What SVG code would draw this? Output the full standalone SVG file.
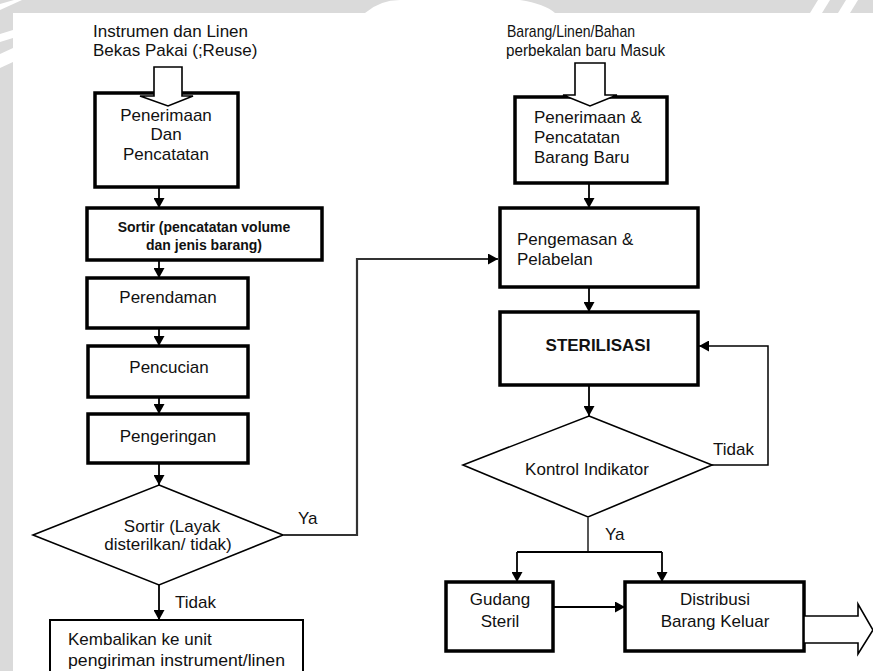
<svg xmlns="http://www.w3.org/2000/svg" width="873" height="671" viewBox="0 0 873 671">
  <defs>
    <marker id="arrow" markerUnits="userSpaceOnUse" markerWidth="10" markerHeight="11" refX="10" refY="5.5" orient="auto">
      <path d="M0,0 L10,5.5 L0,11 z" fill="#000"/>
    </marker>
    <style>
      text { font-family: "Liberation Sans", Arial, sans-serif; fill: #111; }
      .t { font-size: 17px; }
      .c { text-anchor: middle; }
      .small { font-size: 14px; font-weight: bold; }
      .bold { font-weight: bold; }
      .box { fill: #fff; stroke: #000; stroke-width: 3.5; }
      .thin { fill: #fff; stroke: #000; stroke-width: 2; }
      .dia { fill: #fff; stroke: #000; stroke-width: 1.6; }
      .hollow { fill: #fff; stroke: #000; stroke-width: 1.6; stroke-linejoin: miter; }
      .conn path { fill: none; stroke: #000; stroke-width: 1.8; }
    </style>
  </defs>

  <!-- page background with faint watermark band -->
  <rect x="0" y="0" width="873" height="671" fill="#fff"/>
  <g id="watermark" fill="#dadada">
    <rect x="0" y="0" width="873" height="13"/>
    <rect x="0" y="0" width="13" height="671"/>
  </g>
  <g id="watermark-cuts" fill="#fff">
    <polygon points="0,4 14,0 22,0 0,10"/>
    <polygon points="0,34 13,30 13,38 0,42"/>
    <polygon points="0,54 13,48 13,62 0,68"/>
    <path d="M365,13 Q380,0 400,0 L520,0 Q545,4 555,13 Z"/>
    <polygon points="810,13 818,0 830,0 822,13"/>
    <polygon points="838,13 846,0 858,0 850,13"/>
  </g>

  <!-- left column: reused instruments and linen -->
  <g id="src-reuse">
    <text class="t" x="93" y="37">Instrumen dan Linen</text>
    <text class="t" x="93" y="56">Bekas Pakai (;Reuse)</text>
  </g>

  <g id="n-penerimaan">
    <rect class="box" x="95" y="93" width="143" height="94"/>
    <text class="t c" x="166" y="121">Penerimaan</text>
    <text class="t c" x="166" y="140">Dan</text>
    <text class="t c" x="166" y="160">Pencatatan</text>
  </g>

  <g id="n-sortir">
    <rect class="box" x="87" y="208" width="235" height="52"/>
    <text class="small c" x="204" y="232">Sortir (pencatatan volume</text>
    <text class="small c" x="204" y="250">dan jenis barang)</text>
  </g>

  <g id="n-perendaman">
    <rect class="box" x="87" y="278" width="161" height="50"/>
    <text class="t c" x="168" y="303">Perendaman</text>
  </g>

  <g id="n-pencucian">
    <rect class="box" x="88" y="346" width="160" height="51"/>
    <text class="t c" x="169" y="373">Pencucian</text>
  </g>

  <g id="n-pengeringan">
    <rect class="box" x="88" y="414" width="160" height="49"/>
    <text class="t c" x="168" y="442">Pengeringan</text>
  </g>

  <g id="n-sortir-layak">
    <polygon class="dia" points="159,485 283,535 159,585 33,535"/>
    <text class="t c" x="172" y="532">Sortir (Layak</text>
    <text class="t c" x="168" y="550">disterilkan/ tidak)</text>
  </g>

  <g id="n-kembalikan">
    <rect class="thin" x="50" y="620" width="253" height="60"/>
    <text class="t" x="68" y="645">Kembalikan ke unit</text>
    <text class="t" x="68" y="666" textLength="217" lengthAdjust="spacingAndGlyphs">pengiriman instrument/linen</text>
  </g>

  <!-- right column: new supplies -->
  <g id="src-baru">
    <text class="t" x="507" y="37" textLength="128" lengthAdjust="spacingAndGlyphs">Barang/Linen/Bahan</text>
    <text class="t" x="506" y="56" textLength="159" lengthAdjust="spacingAndGlyphs">perbekalan baru Masuk</text>
  </g>

  <g id="n-penerimaan-baru">
    <rect class="box" x="515" y="97" width="152" height="86"/>
    <text class="t" x="534" y="123">Penerimaan &amp;</text>
    <text class="t" x="534" y="143">Pencatatan</text>
    <text class="t" x="534" y="163">Barang Baru</text>
  </g>

  <g id="n-pengemasan">
    <rect class="box" x="500" y="208" width="198" height="79"/>
    <text class="t" x="517" y="245">Pengemasan &amp;</text>
    <text class="t" x="517" y="265">Pelabelan</text>
  </g>

  <g id="n-sterilisasi">
    <rect class="box" x="500" y="312" width="198" height="73"/>
    <text class="t c bold" x="598" y="351">STERILISASI</text>
  </g>

  <g id="n-kontrol">
    <polygon class="dia" points="589,416 712,465 588,517 463,465"/>
    <text class="t c" x="587" y="475">Kontrol Indikator</text>
  </g>

  <g id="n-gudang">
    <rect class="box" x="446" y="582" width="107" height="69"/>
    <text class="t c" x="500" y="605">Gudang</text>
    <text class="t c" x="500" y="627">Steril</text>
  </g>

  <g id="n-distribusi">
    <rect class="box" x="625" y="582" width="179" height="69"/>
    <text class="t c" x="715" y="605">Distribusi</text>
    <text class="t c" x="715" y="627">Barang Keluar</text>
  </g>

  <!-- connectors -->
  <g id="connectors" class="conn">
    <path d="M159,187 V208" marker-end="url(#arrow)"/>
    <path d="M159,260 V278" marker-end="url(#arrow)"/>
    <path d="M159,328 V346" marker-end="url(#arrow)"/>
    <path d="M159,397 V414" marker-end="url(#arrow)"/>
    <path d="M159,463 V485" marker-end="url(#arrow)"/>
    <path d="M159,585 V620" marker-end="url(#arrow)"/>
    <path d="M283,535 H357 V259 H498" marker-end="url(#arrow)" style="stroke:#333;stroke-width:2.2"/>
    <path d="M589,183 V208" marker-end="url(#arrow)"/>
    <path d="M589,287 V312" marker-end="url(#arrow)"/>
    <path d="M589,385 V416" marker-end="url(#arrow)"/>
    <path d="M712,465 H768 V346 H699" marker-end="url(#arrow)" style="stroke-width:1.5"/>
    <path d="M588,517 V552" style="stroke:#444"/>
    <path d="M517,552 H662"/>
    <path d="M517,552 V582" marker-end="url(#arrow)"/>
    <path d="M662,552 V582" marker-end="url(#arrow)"/>
    <path d="M553,607 H625" marker-end="url(#arrow)"/>
    <!-- block arrows for inflow and outflow -->
    <polygon class="hollow" points="154,67 182,67 182,96 193,96 168,106 140,96 154,96"/>
    <polygon class="hollow" points="575,63 605,63 605,95 617,95 590,106 563,95 575,95"/>
    <polygon class="hollow" points="804,616 858,616 858,604 873,630 858,654 858,643 804,643"/>
  </g>

  <!-- branch labels -->
  <g id="labels">
    <text class="t" x="298" y="524">Ya</text>
    <text class="t" x="175" y="608">Tidak</text>
    <text class="t" x="713" y="455">Tidak</text>
    <text class="t" x="605" y="540">Ya</text>
  </g>
</svg>
